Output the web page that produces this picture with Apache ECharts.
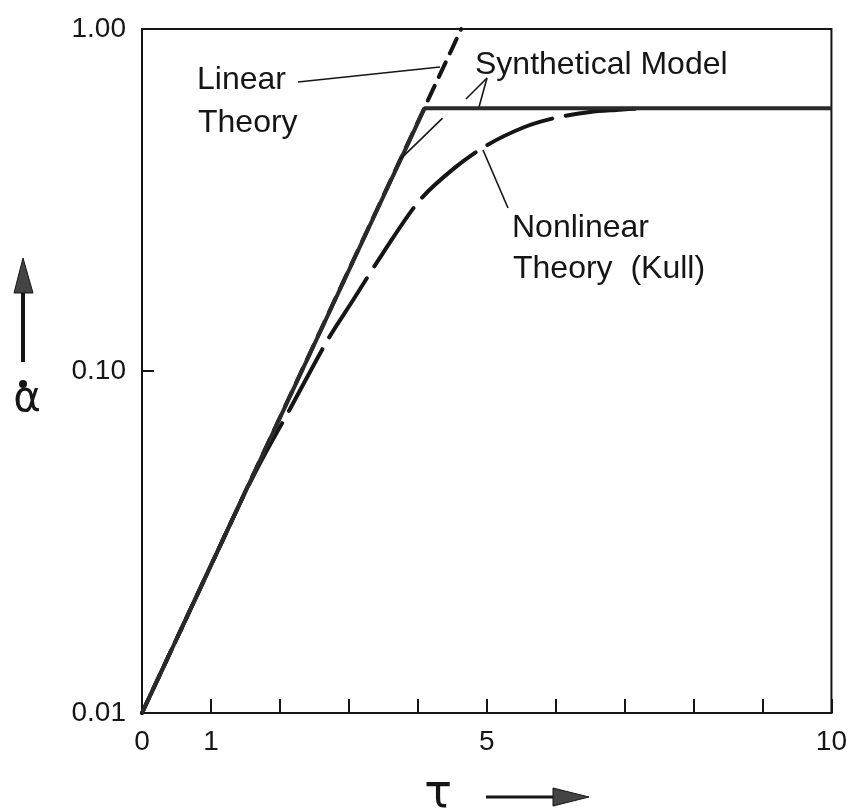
<!DOCTYPE html>
<html>
<head>
<meta charset="utf-8">
<script src="https://cdn.jsdelivr.net/npm/echarts@6/dist/echarts.min.js"></script>
<style>
  html, body { margin: 0; padding: 0; background: #fff; }
  #main { width: 850px; height: 812px; }
</style>
</head>
<body>
<div id="main"></div>
<script>
// x ticks shown with a label
var xLabelTicks = [0, 1, 5, 10];
var yLabelTicks = [0.01, 0.1, 1];

// Linear theory (straight line in log scale)
var tauLinear = [0, 4.63];
var alphaLinear = [0.01, 1.0];

// Synthetical model: linear growth, then saturation
var tauSynth = [0, 4.1, 10];
var alphaSynth = [0.01, 0.587, 0.587];

// thin rounded part of the synthetical model near the knee
var tauSynthKnee = [3.74, 4.36];
var alphaSynthKnee = [0.415, 0.549];

// Nonlinear theory (Kull)
var tauKull = [0, 1, 1.5, 1.8, 2.14, 2.69, 3.06, 3.5, 4.03, 4.53, 5.0, 5.55, 6.0, 6.5, 6.88, 7.3];
var alphaKull = [0.01, 0.027, 0.0443, 0.058, 0.077, 0.123, 0.161, 0.222, 0.316, 0.392, 0.457, 0.517, 0.55, 0.572, 0.58, 0.587];

function pairs(xs, ys) {
  var out = [];
  for (var i = 0; i < xs.length; i++) out.push([xs[i], ys[i]]);
  return out;
}

var chart = echarts.init(document.getElementById('main'));
var ink = '#151515';
var font = 'Liberation Sans';

var option = {
  backgroundColor: '#fff',
  animation: false,
  grid: {
    left: 142, right: 18, top: 29, bottom: 99,
    show: true, borderColor: ink, borderWidth: 2
  },
  xAxis: {
    type: 'value',
    min: 0, max: 10, interval: 1,
    axisLine: { lineStyle: { color: ink, width: 2 } },
    axisTick: { inside: true, length: 14, lineStyle: { color: ink, width: 2 } },
    splitLine: { show: false },
    axisLabel: {
      margin: 15, fontSize: 28, color: ink, fontFamily: font,
      formatter: function (v) {
        return xLabelTicks.indexOf(v) >= 0 ? String(v) : '';
      }
    }
  },
  yAxis: {
    type: 'log', logBase: 10,
    min: 0.01, max: 1,
    axisLine: { lineStyle: { color: ink, width: 2 } },
    axisTick: { inside: true, length: 12, lineStyle: { color: ink, width: 2 } },
    splitLine: { show: false },
    axisLabel: {
      margin: 16, fontSize: 28, color: ink, fontFamily: font,
      formatter: function (v) { return Number(v).toFixed(2); }
    }
  },
  series: [
    {
      name: 'Linear Theory', type: 'line', data: pairs(tauLinear, alphaLinear),
      symbol: 'none', silent: true,
      lineStyle: { color: ink, width: 4, type: [16, 10], cap: 'round' }
    },
    {
      name: 'Nonlinear Theory (Kull)', type: 'line', data: pairs(tauKull, alphaKull),
      symbol: 'none', smooth: 0.3, silent: true,
      lineStyle: { color: ink, width: 4, type: [70, 14], cap: 'round' }
    },
    {
      name: 'Synthetical Model', type: 'line', data: pairs(tauSynth, alphaSynth),
      symbol: 'none', silent: true,
      lineStyle: { color: '#2a2a2a', width: 4 }
    },
    {
      name: 'Synthetical Model knee', type: 'line', data: pairs(tauSynthKnee, alphaSynthKnee),
      symbol: 'none', silent: true,
      lineStyle: { color: ink, width: 1.6 }
    }
  ],
  graphic: [
    // annotations
    { type: 'text', left: 197, top: 64, style: { text: 'Linear', font: '32px ' + font, fill: ink } },
    { type: 'text', left: 198, top: 107, style: { text: 'Theory', font: '32px ' + font, fill: ink } },
    { type: 'line', shape: { x1: 298, y1: 82, x2: 440, y2: 67 }, style: { stroke: ink, lineWidth: 1.6 } },

    { type: 'text', left: 475, top: 49, style: { text: 'Synthetical Model', font: '32px ' + font, fill: ink } },
    { type: 'line', shape: { x1: 487, y1: 78, x2: 466, y2: 99 }, style: { stroke: ink, lineWidth: 1.6 } },
    { type: 'line', shape: { x1: 487, y1: 78, x2: 479, y2: 107 }, style: { stroke: ink, lineWidth: 1.6 } },

    { type: 'text', left: 512, top: 212, style: { text: 'Nonlinear', font: '32px ' + font, fill: ink } },
    { type: 'text', left: 513, top: 253, style: { text: 'Theory  (Kull)', font: '32px ' + font, fill: ink } },
    { type: 'line', shape: { x1: 483, y1: 150, x2: 508, y2: 208 }, style: { stroke: ink, lineWidth: 1.6 } },

    // x axis name with arrow
    { type: 'text', x: 438, y: 795, style: { text: 'τ', font: '46px DejaVu Sans', fill: ink, align: 'center', verticalAlign: 'middle' } },
    { type: 'line', shape: { x1: 486, y1: 797, x2: 560, y2: 797 }, style: { stroke: ink, lineWidth: 3 } },
    { type: 'polygon', shape: { points: [[553, 788], [589, 797], [553, 806]] }, style: { fill: '#444', stroke: ink, lineWidth: 1 } },

    // y axis name with arrow
    { type: 'line', shape: { x1: 23, y1: 362, x2: 23, y2: 288 }, style: { stroke: ink, lineWidth: 4 } },
    { type: 'polygon', shape: { points: [[14, 293], [23, 258], [33, 293]] }, style: { fill: '#444', stroke: ink, lineWidth: 1 } },
    { type: 'text', x: 27, y: 400, style: { text: 'α', font: '42px DejaVu Sans', fill: ink, align: 'center', verticalAlign: 'middle' } },
    { type: 'circle', shape: { cx: 23, cy: 384, r: 4 }, style: { fill: ink } }
  ]
};

chart.setOption(option);
</script>
</body>
</html>
